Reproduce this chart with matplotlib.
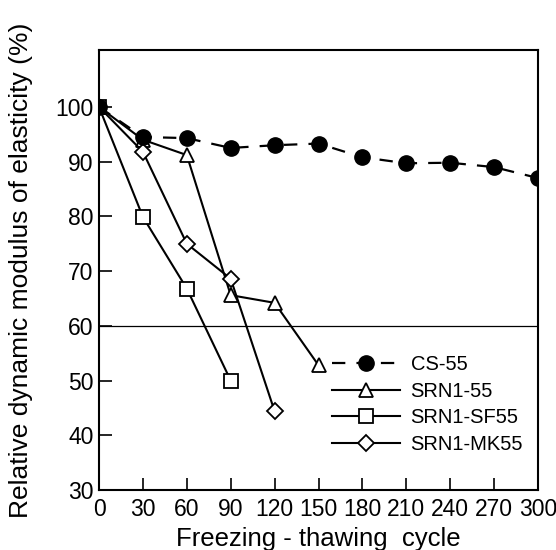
import matplotlib
matplotlib.use("Agg")
import matplotlib.pyplot as plt

plt.rcParams['font.family'] = ['Liberation Sans', 'DejaVu Sans']

cycles_cs = [0, 30, 60, 90, 120, 150, 180, 210, 240, 270, 300]
cs55 = [100, 94.5, 94.3, 92.5, 93.0, 93.3, 90.8, 89.7, 89.8, 89.0, 87.0]

cycles_srn = [0, 30, 60, 90, 120, 150]
srn1_55 = [100, 94.0, 91.2, 65.6, 64.2, 52.8]

cycles_sf = [0, 30, 60, 90]
srn1_sf55 = [100, 79.9, 66.8, 50.0]

cycles_mk = [0, 30, 60, 90, 120]
srn1_mk55 = [100, 91.8, 75.0, 68.6, 44.4]

xticks = [0, 30, 60, 90, 120, 150, 180, 210, 240, 270, 300]
yticks = [30, 40, 50, 60, 70, 80, 90, 100]

fig = plt.figure(figsize=(5.56, 5.5), dpi=100)
ax = fig.add_axes([99/556, 1-490/550, (538-99)/556, (490-50)/550])

ax.axhline(60, color='black', lw=0.9, zorder=1)

ms = 10
ax.plot(cycles_srn, srn1_55, '-', color='black', lw=1.5, marker='^', ms=ms+0.5,
        mfc='white', mec='black', mew=1.3, label='SRN1-55', zorder=3)
ax.plot(cycles_sf, srn1_sf55, '-', color='black', lw=1.5, marker='s', ms=ms-0.5,
        mfc='white', mec='black', mew=1.3, label='SRN1-SF55', zorder=3)
ax.plot(cycles_mk, srn1_mk55, '-', color='black', lw=1.5, marker='D', ms=ms-1.5,
        mfc='white', mec='black', mew=1.3, label='SRN1-MK55', zorder=3)
ax.plot(cycles_cs, cs55, color='black', lw=1.6, dashes=(6, 5), marker='o', ms=ms+1,
        mfc='black', mec='black', label='CS-55', zorder=4)

ax.set_xlim(0, 300)
ax.set_ylim(30, 110.4)
ax.set_xticks(xticks)
ax.set_yticks(yticks)
ax.tick_params(axis='both', direction='in', length=9, width=1.2, labelsize=16.5,
               top=False, right=False)
ax.tick_params(axis='y', pad=4)
ax.tick_params(axis='x', pad=6)
for s in ax.spines.values():
    s.set_linewidth(1.5)

ax.set_xlabel('Freezing - thawing  cycle', fontsize=18.5, labelpad=4)
ax.set_ylabel('Relative dynamic modulus of elasticity (%)', fontsize=19, labelpad=16)

h, l = ax.get_legend_handles_labels()
order = [3, 0, 1, 2]
ax.legend([h[i] for i in order], [l[i] for i in order], frameon=False,
          loc='upper left', bbox_to_anchor=(332/556, 1-355/550),
          bbox_transform=fig.transFigure, borderpad=0, borderaxespad=0,
          handlelength=3.4, handletextpad=0.5, labelspacing=0.38, fontsize=14.5)

fig.savefig('out.png', dpi=100)
